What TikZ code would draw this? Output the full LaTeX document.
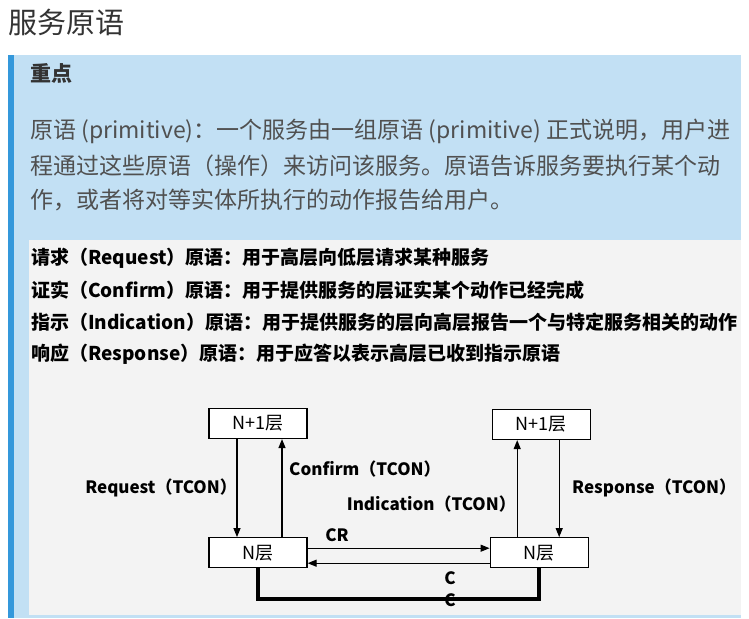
\documentclass[tikz,border=0pt]{standalone}
\usepackage{fontspec}
\setmainfont{Noto Sans CJK SC}
\usetikzlibrary{positioning,arrows.meta}
\definecolor{cBar}  {HTML}{3498DB}
\definecolor{cNote} {HTML}{C2E0F4}
\definecolor{cImg}  {HTML}{F3F3F3}
\definecolor{cText} {HTML}{505050}
\definecolor{cTitle}{HTML}{333333}
\tikzset{
  >={Triangle[length=9pt,width=7pt]},
  lyr/.style ={draw,line width=1.2pt,fill=white,minimum width=98pt,
               minimum height=30pt,inner sep=0pt,font=\fontsize{18}{18}\selectfont},
  plab/.style={inner sep=0pt,font=\bfseries\fontsize{17}{17}\selectfont},
  defl/.style={inner sep=0pt,anchor=west,font=\bfseries\fontsize{19}{19}\selectfont},
  parl/.style={inner sep=0pt,anchor=west,text=cText,font=\fontsize{23}{23}\selectfont},
  par/.style ={->,line width=1.2pt},
  back/.style={line width=3.5pt},
}

\begin{document}
\begin{tikzpicture}[x=1pt,y=-1pt]
    \useasboundingbox (0,0) rectangle (749,618);
    % note block
    \fill[cNote] (14,55) rectangle (741,618);
    \fill[cBar] (8,55) rectangle (14,618);
    \node[inner sep=0pt,anchor=west,text=cTitle,font=\fontsize{29}{29}\selectfont] (title) at (8,22) {服务原语};
    \node[inner sep=0pt,anchor=west,text=cTitle,font=\bfseries\fontsize{21}{21}\selectfont] (key) at (30,73) {重点};
    \foreach \ty/\tx [count=\i] in {131/{原语 (primitive)：一个服务由一组原语 (primitive) 正式说明，用户进},
        166/{程通过这些原语（操作）来访问该服务。原语告诉服务要执行某个动},
        200/{作，或者将对等实体所执行的动作报告给用户。}}
      \node[parl] (para\i) at (30,\ty) {\tx};
    % picture
    \fill[cImg] (29,240) rectangle (741,615);
    \foreach \ty/\tx [count=\i] in {258/{请求（Request）原语：用于高层向低层请求某种服务},
        290/{证实（Confirm）原语：用于提供服务的层证实某个动作已经完成},
        322/{指示（Indication）原语：用于提供服务的层向高层报告一个与特定服务相关的动作},
        354/{响应（Response）原语：用于应答以表示高层已收到指示原语}}
      \node[defl] (def\i) at (31,\ty) {\tx};

    \node[lyr] (upL) at (258,423.5) {N+1层};
    \node[lyr,below=98pt of upL] (nL) {N层};
    \node[lyr,right=182pt of nL] (nR) {N层};
    \node[lyr,above=97pt of nR,xshift=2pt] (upR) {N+1层};

    \draw[par] ([xshift=-21pt]upL.south) -- ([xshift=-21pt]nL.north);
    \draw[par] ([xshift=24pt]nL.north) -- ([xshift=24pt]upL.south);
    \draw[par] ([xshift=-22pt]nR.north) -- ([xshift=-22pt]nR.north |- upR.south);
    \draw[par] ([xshift=20pt]nR.north |- upR.south) -- ([xshift=20pt]nR.north);
    \draw[par] ([yshift=4.5pt]nL.east) -- ([yshift=4.5pt]nR.west);
    \draw[par] ([yshift=-10.5pt]nR.west) -- ([yshift=-10.5pt]nL.east);

    \node[plab,anchor=east] (lreq) at (237,488) {Request（TCON）};
    \node[plab,anchor=west] (lcon) at (289,469) {Confirm（TCON）};
    \node[plab,anchor=east] (lind) at (516,504) {Indication（TCON）};
    \node[plab,anchor=west] (lres) at (572,488) {Response（TCON）};
    \node[plab] (lcr) at (337,535) {CR};
    \node[plab] (lc1) at (450,578) {C};
    \node[plab] (lc2) at (450,600) {C};

    \coordinate (cb) at (258,599);
    \draw[back] (nL.south) -- (nL.south |- cb) -| (nR.south);
\end{tikzpicture}
\end{document}
